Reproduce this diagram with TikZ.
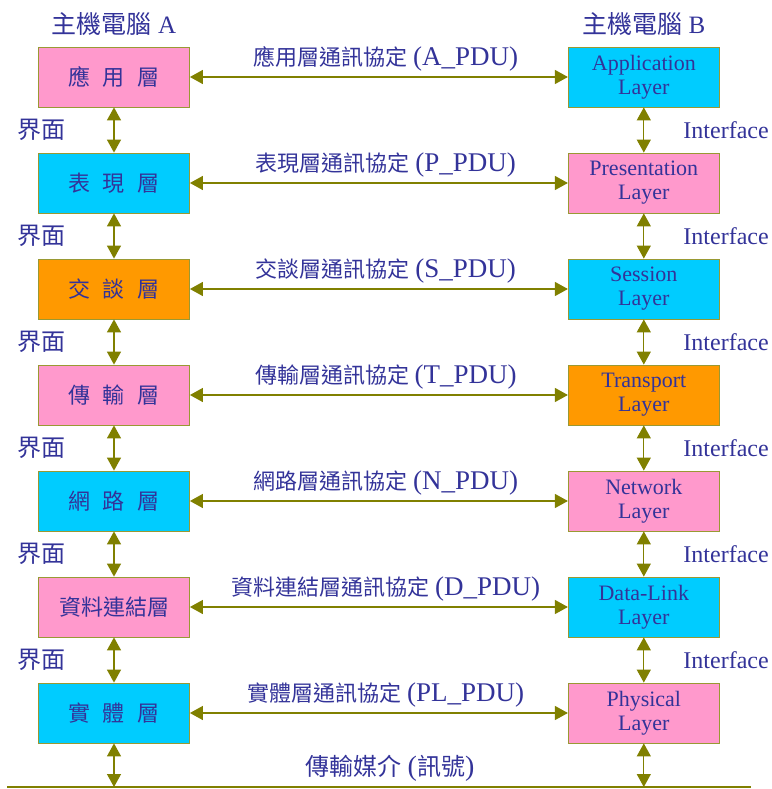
\documentclass[tikz,border=0pt]{standalone}
\usepackage{fontspec}
\setmainfont{Liberation Serif}
\newfontfamily\zh{Noto Sans CJK TC}
\usetikzlibrary{arrows.meta,positioning}
\definecolor{laypink}{RGB}{255,153,204}
\definecolor{laycyan}{RGB}{0,204,255}
\definecolor{layorange}{RGB}{255,153,0}
\definecolor{olivegreen}{RGB}{128,128,0}
\definecolor{boxedge}{RGB}{153,153,51}
\definecolor{textblue}{RGB}{51,51,153}

\begin{document}
\begin{tikzpicture}[x=1pt,y=1pt]
    \tikzstyle{layer_style} = [draw=boxedge, line width=0.8pt, minimum width=151pt, minimum height=60pt, inner sep=0pt, align=center, text=textblue, font=\fontsize{22}{24}\selectfont]
    \tikzstyle{pink_layer} = [layer_style, fill=laypink]
    \tikzstyle{cyan_layer} = [layer_style, fill=laycyan]
    \tikzstyle{orange_layer} = [layer_style, fill=layorange]
    \tikzstyle{link_style} = [{Triangle[length=13pt,width=14pt]}-{Triangle[length=13pt,width=14pt]}, line width=1.3pt, olivegreen]
    \tikzstyle{label_style} = [text=textblue, font=\fontsize{22}{24}\selectfont, inner sep=0pt]
    \tikzstyle{side_style} = [text=textblue, font=\fontsize{24}{24}\selectfont, inner sep=0pt]

    \def\gap{\hspace{13pt}}
    \def\pdu#1{{\fontsize{27}{27}\selectfont(#1)}}

    \useasboundingbox (0,0) rectangle (771,-789);

    % host A
    \node[pink_layer] (a7) at (114,-77) {\zh 應\gap 用\gap 層};
    \node[cyan_layer, below=45.2pt of a7] (a6) {\zh 表\gap 現\gap 層};
    \node[orange_layer, below=45.2pt of a6] (a5) {\zh 交\gap 談\gap 層};
    \node[pink_layer, below=45.2pt of a5] (a4) {\zh 傳\gap 輸\gap 層};
    \node[cyan_layer, below=45.2pt of a4] (a3) {\zh 網\gap 路\gap 層};
    \node[pink_layer, below=45.2pt of a3] (a2) {\zh 資料連結層};
    \node[cyan_layer, below=45.2pt of a2] (a1) {\zh 實\gap 體\gap 層};

    % host B
    \node[cyan_layer, right=378pt of a7] (b7) {Application\\Layer};
    \node[pink_layer, right=378pt of a6] (b6) {Presentation\\Layer};
    \node[cyan_layer, right=378pt of a5] (b5) {Session\\Layer};
    \node[orange_layer, right=378pt of a4] (b4) {Transport\\Layer};
    \node[pink_layer, right=378pt of a3] (b3) {Network\\Layer};
    \node[cyan_layer, right=378pt of a2] (b2) {Data-Link\\Layer};
    \node[pink_layer, right=378pt of a1] (b1) {Physical\\Layer};

    \node[side_style, font=\fontsize{25}{25}\selectfont, above=11pt of a7] (hostA) {{\zh 主機電腦} A};
    \node[side_style, font=\fontsize{25}{25}\selectfont, above=11pt of b7] (hostB) {{\zh 主機電腦} B};

    % peer protocols
    \draw[link_style] (a7) -- (b7) node[midway, above=5pt, xshift=7pt, label_style] {{\zh 應用層通訊協定} \pdu{A\_PDU}};
    \draw[link_style] (a6) -- (b6) node[midway, above=5pt, xshift=7pt, label_style] {{\zh 表現層通訊協定} \pdu{P\_PDU}};
    \draw[link_style] (a5) -- (b5) node[midway, above=5pt, xshift=7pt, label_style] {{\zh 交談層通訊協定} \pdu{S\_PDU}};
    \draw[link_style] (a4) -- (b4) node[midway, above=5pt, xshift=7pt, label_style] {{\zh 傳輸層通訊協定} \pdu{T\_PDU}};
    \draw[link_style] (a3) -- (b3) node[midway, above=5pt, xshift=7pt, label_style] {{\zh 網路層通訊協定} \pdu{N\_PDU}};
    \draw[link_style] (a2) -- (b2) node[midway, above=5pt, xshift=7pt, label_style] {{\zh 資料連結層通訊協定} \pdu{D\_PDU}};
    \draw[link_style] (a1) -- (b1) node[midway, above=5pt, xshift=7pt, label_style] {{\zh 實體層通訊協定} \pdu{PL\_PDU}};

    % interfaces
    \draw[link_style] (a7) -- (a6) node[midway, left=48pt, side_style] {\zh 界面};
    \draw[link_style] (a6) -- (a5) node[midway, left=48pt, side_style] {\zh 界面};
    \draw[link_style] (a5) -- (a4) node[midway, left=48pt, side_style] {\zh 界面};
    \draw[link_style] (a4) -- (a3) node[midway, left=48pt, side_style] {\zh 界面};
    \draw[link_style] (a3) -- (a2) node[midway, left=48pt, side_style] {\zh 界面};
    \draw[link_style] (a2) -- (a1) node[midway, left=48pt, side_style] {\zh 界面};

    \draw[link_style] (b7) -- (b6) node[midway, right=39pt, side_style] {Interface};
    \draw[link_style] (b6) -- (b5) node[midway, right=39pt, side_style] {Interface};
    \draw[link_style] (b5) -- (b4) node[midway, right=39pt, side_style] {Interface};
    \draw[link_style] (b4) -- (b3) node[midway, right=39pt, side_style] {Interface};
    \draw[link_style] (b3) -- (b2) node[midway, right=39pt, side_style] {Interface};
    \draw[link_style] (b2) -- (b1) node[midway, right=39pt, side_style] {Interface};

    % medium
    \coordinate (wireL) at (7,-787);
    \coordinate (wireR) at (751,-787);
    \draw[line width=2pt, olivegreen] (wireL) -- (wireR);
    \draw[link_style] (a1) -- (a1 |- wireL);
    \draw[link_style] (b1) -- (b1 |- wireL);
    \node[label_style, font=\fontsize{24}{24}\selectfont] (medium) at (390,-768) {{\zh 傳輸媒介} {\fontsize{28}{28}\selectfont(}{\zh 訊號}{\fontsize{28}{28}\selectfont)}};

\end{tikzpicture}
\end{document}
